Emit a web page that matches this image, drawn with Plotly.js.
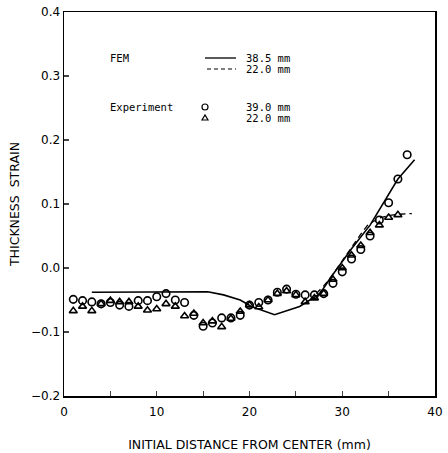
<!DOCTYPE html>
<html><head><meta charset="utf-8">
<script src="https://cdn.plot.ly/plotly-3.0.1.min.js"></script>
<style>html,body{margin:0;padding:0;background:#fff}#c{width:448px;height:453px}</style>
</head><body><div id="c"></div>
<script>
// FEM 38.5 mm (solid)
const femAx = [3, 8, 12, 15.5, 17.2, 19, 20.2, 22.7, 25.4, 27.6, 28.7, 29.1, 31, 33, 34.8, 36, 37.8];
const femAy = [-0.038, -0.038, -0.037, -0.037, -0.042, -0.050, -0.060, -0.073, -0.060, -0.040, -0.016, -0.008, 0.030, 0.067, 0.109, 0.139, 0.169];
// FEM 22.0 mm (dashed)
const femBx = [27.2, 28, 28.8, 30, 31, 32, 32.8, 34, 35, 36.2, 37.5];
const femBy = [-0.040, -0.028, -0.014, 0.010, 0.032, 0.053, 0.068, 0.078, 0.082, 0.084, 0.085];
// Experiment 39.0 mm (circles)
const expAx = [1,2,3,4,5,6,7,8,9,10,11,12,13,14,15,16,17,18,19,20,21,22,23,24,25,26,27,28,29,30,31,32,33,34,35,36,37];
const expAy = [-0.049,-0.051,-0.053,-0.056,-0.054,-0.058,-0.060,-0.051,-0.051,-0.045,-0.040,-0.050,-0.054,-0.074,-0.091,-0.086,-0.078,-0.078,-0.074,-0.058,-0.054,-0.050,-0.038,-0.033,-0.041,-0.042,-0.042,-0.040,-0.024,-0.006,0.014,0.029,0.050,0.075,0.102,0.139,0.177];
// Experiment 22.0 mm (triangles)
const expBx = [1,2,3,4,5,6,7,8,9,10,11,12,13,14,15,16,17,18,19,20,21,22,23,24,25,26,27,28,29,30,31,32,33,34,35,36];
const expBy = [-0.067,-0.060,-0.067,-0.056,-0.051,-0.053,-0.053,-0.060,-0.066,-0.064,-0.056,-0.060,-0.075,-0.071,-0.086,-0.083,-0.092,-0.079,-0.068,-0.058,-0.061,-0.050,-0.040,-0.036,-0.042,-0.053,-0.047,-0.040,-0.018,0.000,0.020,0.035,0.055,0.067,0.079,0.083];
const xTickVals = [0,5,10,15,20,25,30,35,40];
const xTickText = ['0','','10','','20','','30','','40'];
const yTickVals = [-0.2,-0.1,0,0.1,0.2,0.3,0.4];
const yTickText = ['\u22120.2','\u22120.1','0.0','0.1','0.2','0.3','0.4'];

const traces = [
  {x: femAx, y: femAy, mode: 'lines', line: {color: '#000', width: 1.6}},
  {x: femBx, y: femBy, mode: 'lines', line: {color: '#000', width: 1.3, dash: '6px,4px'}},
  {x: expAx, y: expAy, mode: 'markers', marker: {symbol: 'circle-open', size: 7.5, color: '#000', line: {width: 1.6, color: '#000'}}},
  {x: expBx, y: expBy, mode: 'markers', marker: {symbol: 'triangle-up-open', size: 7, color: '#000', line: {width: 1.6, color: '#000'}}}
];
const mono = {family: 'DejaVu Sans Mono, monospace', size: 10.5, color: '#000'};
const px = v => (v - 64) / (435 - 64);
const py = v => (396 - v) / (396 - 12);
function lab(x, y, t) {
  return {xref: 'paper', yref: 'paper', x: px(x), y: py(y), text: t, showarrow: false,
          xanchor: 'left', yanchor: 'middle', font: mono};
}
const layout = {
  width: 448, height: 453,
  margin: {l: 64, r: 13, t: 12, b: 57},
  paper_bgcolor: '#fff', plot_bgcolor: '#fff',
  showlegend: false,
  font: {family: 'DejaVu Sans, sans-serif', size: 12, color: '#000'},
  xaxis: {range: [0, 40], tickvals: xTickVals, ticktext: xTickText, ticks: 'inside', ticklen: 5, tickwidth: 1.2,
          showline: true, linecolor: '#000', linewidth: 1.5, mirror: true, showgrid: false, zeroline: false,
          ticklabelstandoff: 4,
          tickfont: {size: 12}, title: {text: 'INITIAL DISTANCE FROM CENTER (mm)', font: {size: 12.5}, standoff: 22}},
  yaxis: {range: [-0.2, 0.4], tickvals: yTickVals, ticktext: yTickText, ticks: 'inside', ticklen: 5, tickwidth: 1.2,
          showline: true, linecolor: '#000', linewidth: 1.5, mirror: true, showgrid: false, zeroline: false,
          tickfont: {size: 12}, title: {text: 'THICKNESS  STRAIN', font: {size: 12.5}, standoff: 8}},
  annotations: [
    lab(108, 58, 'FEM'),
    lab(244, 58, '38.5 mm'),
    lab(244, 69, '22.0 mm'),
    lab(108, 107, 'Experiment'),
    lab(244, 107, '39.0 mm'),
    lab(244, 118, '22.0 mm')
  ],
  shapes: [
    {type: 'line', xref: 'paper', yref: 'paper', x0: px(205), x1: px(236), y0: py(58), y1: py(58), line: {color: '#000', width: 1.3}},
    {type: 'line', xref: 'paper', yref: 'paper', x0: px(207), x1: px(236), y0: py(69), y1: py(69), line: {color: '#000', width: 1.2, dash: '4px,3px'}},
    {type: 'circle', xref: 'paper', yref: 'paper', x0: px(202), x1: px(208), y0: py(104), y1: py(110), line: {color: '#000', width: 1.2}},
    {type: 'path', xref: 'paper', yref: 'paper', path: 'M ' + px(202) + ' ' + py(120) + ' L ' + px(208) + ' ' + py(120) + ' L ' + px(205) + ' ' + py(115) + ' Z', line: {color: '#000', width: 1.2}}
  ]
};
Plotly.newPlot('c', traces, layout, {staticPlot: true, displayModeBar: false});
</script></body></html>
